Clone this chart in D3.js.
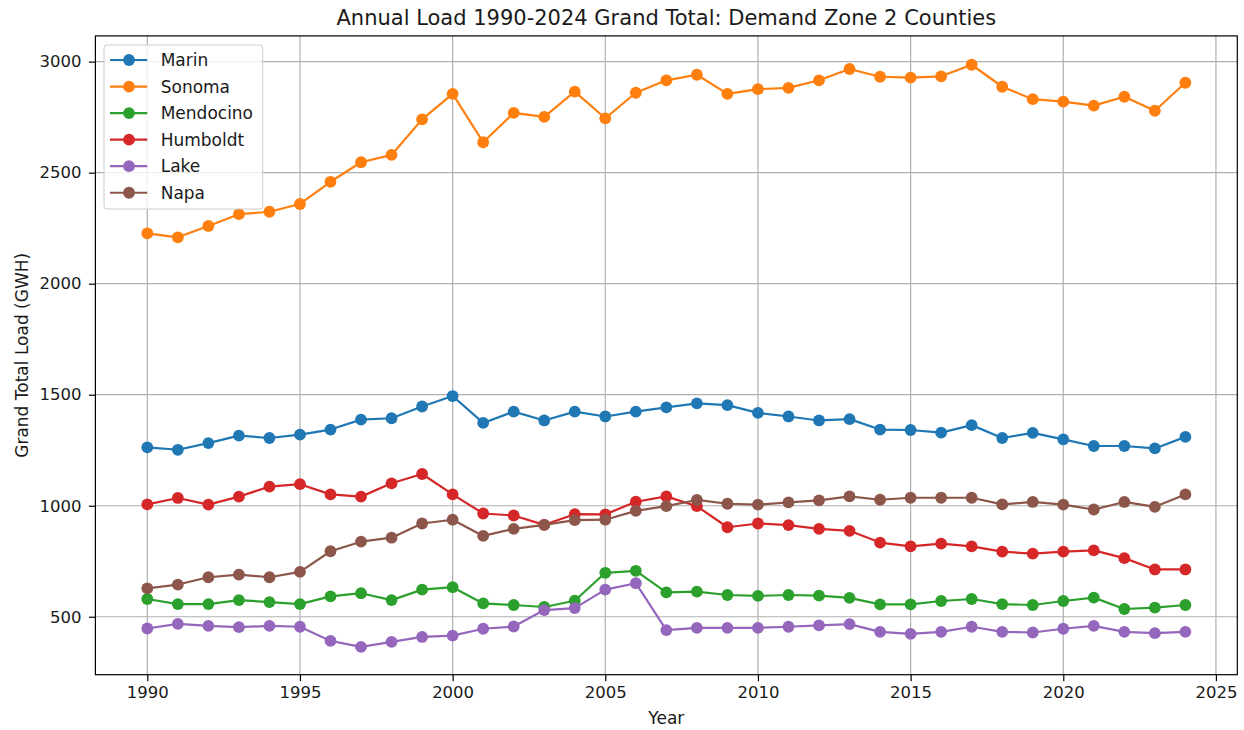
<!DOCTYPE html>
<html>
<head>
<meta charset="utf-8">
<script src="https://cdn.jsdelivr.net/npm/d3@7"></script>
<style>
  body { margin: 0; background: #fff; }
  svg { font-family: "DejaVu Sans", sans-serif; }
</style>
</head>
<body>
<div id="chart"></div>
<script>
// values (GWH)
var years = d3.range(1990, 2025);

var marin = [1263, 1252, 1282, 1316, 1305, 1320, 1343, 1388, 1394, 1447, 1494, 1373,
  1424, 1384, 1424, 1402, 1424, 1443, 1461, 1453, 1418, 1402, 1384, 1390, 1343, 1341,
  1329, 1363, 1305, 1328, 1299, 1269, 1269, 1258, 1310];
var sonoma = [2227, 2209, 2260, 2313, 2324, 2359, 2459, 2547, 2580, 2740, 2855, 2637,
  2769, 2751, 2865, 2745, 2860, 2916, 2941, 2855, 2876, 2882, 2916, 2967, 2932, 2928,
  2934, 2986, 2887, 2831, 2820, 2802, 2842, 2779, 2905];
var mendocino = [580, 557, 557, 575, 566, 557, 592, 606, 575, 622, 633, 560,
  553, 544, 572, 698, 707, 610, 613, 598, 594, 598, 595, 585, 556, 556,
  571, 580, 557, 553, 571, 586, 535, 541, 553];
var humboldt = [1006, 1035, 1005, 1041, 1086, 1097, 1051, 1041, 1101, 1143, 1051, 965,
  956, 914, 962, 961, 1018, 1042, 998, 903, 920, 913, 896, 887, 834, 817,
  829, 817, 793, 784, 793, 799, 764, 713, 713];
var lake = [447, 468, 459, 453, 459, 455, 391, 364, 387, 409, 415, 446,
  456, 530, 539, 622, 651, 440, 450, 450, 450, 455, 461, 467, 432, 423,
  432, 455, 432, 429, 446, 459, 432, 426, 432];
var napa = [628, 645, 678, 690, 678, 702, 795, 838, 856, 920, 937, 864,
  896, 914, 935, 937, 977, 998, 1026, 1009, 1005, 1015, 1024, 1042, 1027, 1036,
  1036, 1036, 1006, 1017, 1005, 983, 1017, 995, 1051];

var seriesNames = ["Marin", "Sonoma", "Mendocino", "Humboldt", "Lake", "Napa"];
var seriesValues = [marin, sonoma, mendocino, humboldt, lake, napa];
var seriesColors = ["#1f77b4", "#ff7f0e", "#2ca02c", "#d62728", "#9467bd", "#8c564b"];

var xTicks = [1990, 1995, 2000, 2005, 2010, 2015, 2020, 2025];
var yTicks = [500, 1000, 1500, 2000, 2500, 3000];

var width = 1244, height = 730;
var plot = { left: 95.4, right: 1237.3, top: 35.9, bottom: 674.7 };

var svg = d3.select("#chart").append("svg")
    .attr("width", width)
    .attr("height", height);

var x = d3.scaleLinear().domain([1988.3, 2025.7]).range([plot.left, plot.right]);
var y = d3.scaleLinear().domain([239, 3116]).range([plot.bottom, plot.top]);

// grid
var grid = svg.append("g");
grid.selectAll("line.gx")
    .data(xTicks)
    .enter().append("line")
    .attr("x1", d => x(d)).attr("x2", d => x(d))
    .attr("y1", plot.top).attr("y2", plot.bottom)
    .attr("stroke", "#b0b0b0").attr("stroke-width", 1.2);
grid.selectAll("line.gy")
    .data(yTicks)
    .enter().append("line")
    .attr("x1", plot.left).attr("x2", plot.right)
    .attr("y1", d => y(d)).attr("y2", d => y(d))
    .attr("stroke", "#b0b0b0").attr("stroke-width", 1.2);

// lines + markers, drawn in series order so later ones sit on top
var line = d3.line()
    .x((d, i) => x(years[i]))
    .y(d => y(d));

seriesValues.forEach(function (vals, k) {
    var g = svg.append("g");
    g.append("path")
        .datum(vals)
        .attr("d", line)
        .attr("fill", "none")
        .attr("stroke", seriesColors[k])
        .attr("stroke-width", 2.2)
        .attr("stroke-linejoin", "round");
    g.selectAll("circle")
        .data(vals)
        .enter().append("circle")
        .attr("cx", (d, i) => x(years[i]))
        .attr("cy", d => y(d))
        .attr("r", 5.9)
        .attr("fill", seriesColors[k]);
});

// axes
var xAxis = svg.append("g")
    .attr("transform", "translate(0," + plot.bottom + ")")
    .call(d3.axisBottom(x).tickValues(xTicks).tickFormat(d3.format("d")).tickSize(6.5).tickPadding(5.5));
var yAxis = svg.append("g")
    .attr("transform", "translate(" + plot.left + ",0)")
    .call(d3.axisLeft(y).tickValues(yTicks).tickFormat(d3.format("d")).tickSize(6.5).tickPadding(7.5));

[xAxis, yAxis].forEach(function (a) {
    a.select(".domain").remove();
    a.selectAll("text").attr("font-size", 16.5).attr("fill", "#1a1a1a")
        .attr("font-family", "DejaVu Sans, sans-serif");
    a.selectAll("line").attr("stroke", "#000").attr("stroke-width", 1.2);
});

// frame
svg.append("rect")
    .attr("x", plot.left).attr("y", plot.top)
    .attr("width", plot.right - plot.left)
    .attr("height", plot.bottom - plot.top)
    .attr("fill", "none")
    .attr("stroke", "#000")
    .attr("stroke-width", 1.2);

// titles
svg.append("text")
    .attr("x", (plot.left + plot.right) / 2)
    .attr("y", 25)
    .attr("text-anchor", "middle")
    .attr("font-size", 21)
    .attr("fill", "#1a1a1a")
    .text("Annual Load 1990-2024 Grand Total: Demand Zone 2 Counties");

svg.append("text")
    .attr("x", (plot.left + plot.right) / 2)
    .attr("y", 724)
    .attr("text-anchor", "middle")
    .attr("font-size", 17)
    .attr("fill", "#1a1a1a")
    .text("Year");

svg.append("text")
    .attr("transform", "translate(28," + ((plot.top + plot.bottom) / 2) + ") rotate(-90)")
    .attr("text-anchor", "middle")
    .attr("font-size", 17)
    .attr("fill", "#1a1a1a")
    .text("Grand Total Load (GWH)");

// legend
var legend = svg.append("g").attr("transform", "translate(104,45)");
legend.append("rect")
    .attr("width", 158.7).attr("height", 164)
    .attr("rx", 3)
    .attr("fill", "#fff").attr("fill-opacity", 0.8)
    .attr("stroke", "#cccccc").attr("stroke-width", 1);

var items = legend.selectAll("g.item")
    .data(seriesNames)
    .enter().append("g")
    .attr("transform", (d, i) => "translate(0," + (15 + i * 26.55) + ")");
items.append("line")
    .attr("x1", 6).attr("x2", 43.3)
    .attr("stroke", (d, i) => seriesColors[i])
    .attr("stroke-width", 2.2);
items.append("circle")
    .attr("cx", 25).attr("r", 5.9)
    .attr("fill", (d, i) => seriesColors[i]);
items.append("text")
    .attr("x", 56.7)
    .attr("dy", "0.36em")
    .attr("font-size", 17)
    .attr("fill", "#1a1a1a")
    .text(d => d);
</script>
</body>
</html>
